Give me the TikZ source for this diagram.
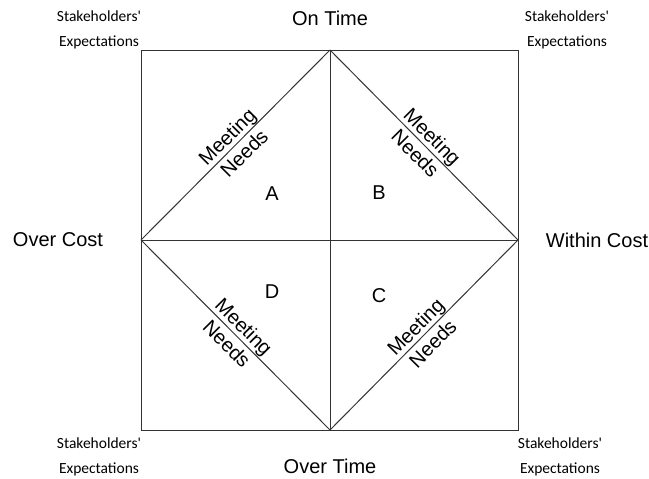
\documentclass[tikz,border=0pt]{standalone}
\usepackage{fontspec}
\setmainfont{Liberation Sans}
\newfontfamily\cornerfont{Carlito}
\usetikzlibrary{positioning}

\begin{document}
\begin{tikzpicture}[
        x=1pt, y=-1pt,
        % Styles
        frame/.style ={draw=black!80, line width=1pt},
        axis/.style  ={font=\fontsize{20}{24}\selectfont, inner sep=0pt},
        stake/.style ={font=\cornerfont\fontsize{15.5}{25}\selectfont, align=center, inner sep=0pt},
        need/.style  ={font=\fontsize{20}{24}\selectfont, align=center, sloped, inner sep=0pt},
        quad/.style  ={font=\fontsize{20}{24}\selectfont, inner sep=0pt}
    ]
    \useasboundingbox (0,0) rectangle (649,479);

    % Square corners
    \coordinate (NW) at (141,50);
    \coordinate (NE) at (518,50);
    \coordinate (SE) at (518,430);
    \coordinate (SW) at (141,430);

    % Edge midpoints
    \coordinate (Top)    at (330,50);
    \coordinate (Right)  at (518,240);
    \coordinate (Bottom) at (330,430);
    \coordinate (Left)   at (141,240);

    % Square and cross
    \draw[frame] (NW) rectangle (SE);
    \draw[frame] (Left) -- (Right);
    \draw[frame] (Top) -- (Bottom);

    % Diamond with labels on each edge
    \draw[frame] (Left) -- node[need] {Meeting\\Needs} (Top);
    \draw[frame] (Top) -- node[need] {Meeting\\Needs} (Right);
    \draw[frame] (Left) -- node[need] {Meeting\\Needs} (Bottom);
    \draw[frame] (Bottom) -- node[need] {Meeting\\Needs} (Right);

    % Axis labels
    \node[axis] (OnTime)     at (330,18)  {On Time};
    \node[axis] (OverTime)   at (330,466) {Over Time};
    \node[axis] (OverCost)   at (58,240)  {Over Cost};
    \node[axis] (WithinCost) at (597,240) {Within Cost};

    % Quadrants
    \node[quad] (QA) at (272,194) {A};
    \node[quad] (QB) at (379,193) {B};
    \node[quad] (QC) at (379,296) {C};
    \node[quad] (QD) at (272,292) {D};

    % Corner labels
    \node[stake] (StakeNW) at (99,30)   {Stakeholders'\\Expectations};
    \node[stake] (StakeNE) at (567,30)  {Stakeholders'\\Expectations};
    \node[stake] (StakeSW) at (99,457)  {Stakeholders'\\Expectations};
    \node[stake] (StakeSE) at (560,457) {Stakeholders'\\Expectations};

\end{tikzpicture}
\end{document}
